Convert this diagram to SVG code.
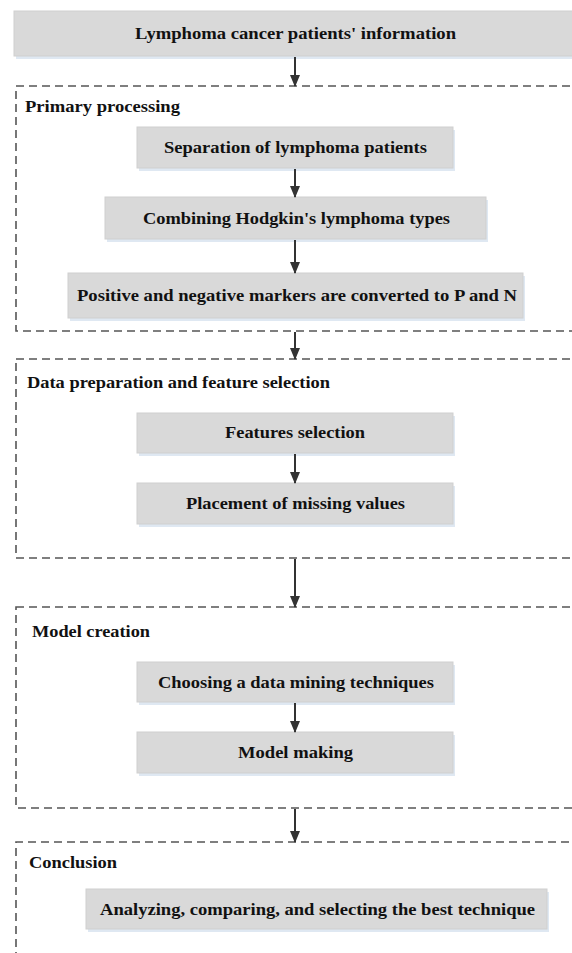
<svg xmlns="http://www.w3.org/2000/svg" width="572" height="953" viewBox="0 0 572 953">
<style>
.box{fill:#d9d9d9;stroke:#cfcfcf;stroke-width:1}
.sh{fill:#dfe8f2}
.grp{fill:none;stroke:#555;stroke-width:1.6;stroke-dasharray:8 5}
.t{font-family:"Liberation Serif","Times New Roman",serif;font-weight:bold;font-size:17px;fill:#111}
.c{text-anchor:middle}
.con{stroke:#333;stroke-width:2;fill:none}
</style>
<defs>
<marker id="ah" markerWidth="12" markerHeight="10" refX="11" refY="5" orient="auto" markerUnits="userSpaceOnUse">
<path d="M0,0 L12,5 L0,10 z" fill="#333"/>
</marker>
</defs>
<g id="groups">
<rect class="grp" x="16" y="86" width="600" height="245"/>
<text class="t" x="25" y="112" textLength="155" lengthAdjust="spacingAndGlyphs">Primary processing</text>
<rect class="grp" x="16" y="359" width="600" height="199"/>
<text class="t" x="27" y="388" textLength="303" lengthAdjust="spacingAndGlyphs">Data preparation and feature selection</text>
<rect class="grp" x="16" y="607" width="600" height="201"/>
<text class="t" x="32" y="637" textLength="118" lengthAdjust="spacingAndGlyphs">Model creation</text>
<path class="grp" d="M16,960 V842 H616"/>
<text class="t" x="29" y="868" textLength="88" lengthAdjust="spacingAndGlyphs">Conclusion</text>
</g>
<g id="n1">
<rect class="sh" x="16" y="14" width="570" height="45"/>
<rect class="box" x="14" y="11" width="570" height="45"/>
<text class="t c" x="295.5" y="39" textLength="321" lengthAdjust="spacingAndGlyphs">Lymphoma cancer patients' information</text>
</g>
<g id="n2">
<rect class="sh" x="139" y="130" width="316" height="41"/>
<rect class="box" x="137" y="127" width="316" height="41"/>
<text class="t c" x="295.5" y="153" textLength="263" lengthAdjust="spacingAndGlyphs">Separation of lymphoma patients</text>
</g>
<g id="n3">
<rect class="sh" x="107" y="200" width="381" height="42"/>
<rect class="box" x="105" y="197" width="381" height="42"/>
<text class="t c" x="296.5" y="224" textLength="307" lengthAdjust="spacingAndGlyphs">Combining Hodgkin's lymphoma types</text>
</g>
<g id="n4">
<rect class="sh" x="70" y="276" width="455" height="45"/>
<rect class="box" x="68" y="273" width="455" height="45"/>
<text class="t c" x="297" y="301" textLength="440" lengthAdjust="spacingAndGlyphs">Positive and negative markers are converted to P and N</text>
</g>
<g id="n5">
<rect class="sh" x="139" y="416" width="316" height="40"/>
<rect class="box" x="137" y="413" width="316" height="40"/>
<text class="t c" x="295" y="438" textLength="140" lengthAdjust="spacingAndGlyphs">Features selection</text>
</g>
<g id="n6">
<rect class="sh" x="139" y="486" width="316" height="41"/>
<rect class="box" x="137" y="483" width="316" height="41"/>
<text class="t c" x="295.5" y="509" textLength="219" lengthAdjust="spacingAndGlyphs">Placement of missing values</text>
</g>
<g id="n7">
<rect class="sh" x="139" y="665" width="316" height="40"/>
<rect class="box" x="137" y="662" width="316" height="40"/>
<text class="t c" x="296" y="688" textLength="276" lengthAdjust="spacingAndGlyphs">Choosing a data mining techniques</text>
</g>
<g id="n8">
<rect class="sh" x="139" y="735" width="316" height="41"/>
<rect class="box" x="137" y="732" width="316" height="41"/>
<text class="t c" x="295.5" y="758" textLength="115" lengthAdjust="spacingAndGlyphs">Model making</text>
</g>
<g id="n9">
<rect class="sh" x="88" y="892" width="461" height="40"/>
<rect class="box" x="86" y="889" width="461" height="40"/>
<text class="t c" x="317.5" y="915" textLength="435" lengthAdjust="spacingAndGlyphs">Analyzing, comparing, and selecting the best technique</text>
</g>
<g id="connectors">
<line class="con" x1="295" y1="57" x2="295" y2="86" marker-end="url(#ah)"/>
<line class="con" x1="295" y1="169" x2="295" y2="197" marker-end="url(#ah)"/>
<line class="con" x1="295" y1="240" x2="295" y2="273" marker-end="url(#ah)"/>
<line class="con" x1="295" y1="332" x2="295" y2="359" marker-end="url(#ah)"/>
<line class="con" x1="295" y1="454" x2="295" y2="483" marker-end="url(#ah)"/>
<line class="con" x1="295" y1="559" x2="295" y2="607" marker-end="url(#ah)"/>
<line class="con" x1="295" y1="703" x2="295" y2="732" marker-end="url(#ah)"/>
<line class="con" x1="295" y1="809" x2="295" y2="842" marker-end="url(#ah)"/>
</g>
</svg>
